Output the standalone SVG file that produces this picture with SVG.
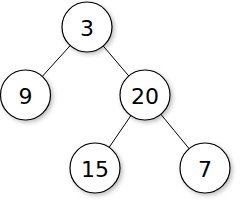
<svg xmlns="http://www.w3.org/2000/svg" width="242" height="202" viewBox="0 0 242 202">
<defs>
<filter id="sh" x="-30%" y="-30%" width="160%" height="160%">
<feDropShadow dx="2" dy="2" stdDeviation="2" flood-color="#000" flood-opacity="0.25"/>
</filter>
<style>
.n circle{fill:#fff;stroke:#000;stroke-width:1.2;filter:url(#sh)}
.n text{font-family:"DejaVu Sans",sans-serif;font-size:22px;text-anchor:middle;dominant-baseline:central;fill:#000}
.e line{stroke:#000;stroke-width:1}
</style>
</defs>
<g id="edges" class="e">
<line x1="87" y1="27" x2="25.5" y2="95"/>
<line x1="87" y1="27" x2="145" y2="95"/>
<line x1="145" y1="95" x2="95" y2="168"/>
<line x1="145" y1="95" x2="205" y2="168"/>
</g>
<g id="n3" class="n"><circle cx="87" cy="27" r="25"/><text x="87" y="28">3</text></g>
<g id="n9" class="n"><circle cx="25.5" cy="95" r="25"/><text x="25.5" y="96">9</text></g>
<g id="n20" class="n"><circle cx="145" cy="95" r="25"/><text x="145" y="96">20</text></g>
<g id="n15" class="n"><circle cx="95" cy="168" r="25"/><text x="95" y="169">15</text></g>
<g id="n7" class="n"><circle cx="205" cy="168" r="25"/><text x="205" y="169">7</text></g>
</svg>
